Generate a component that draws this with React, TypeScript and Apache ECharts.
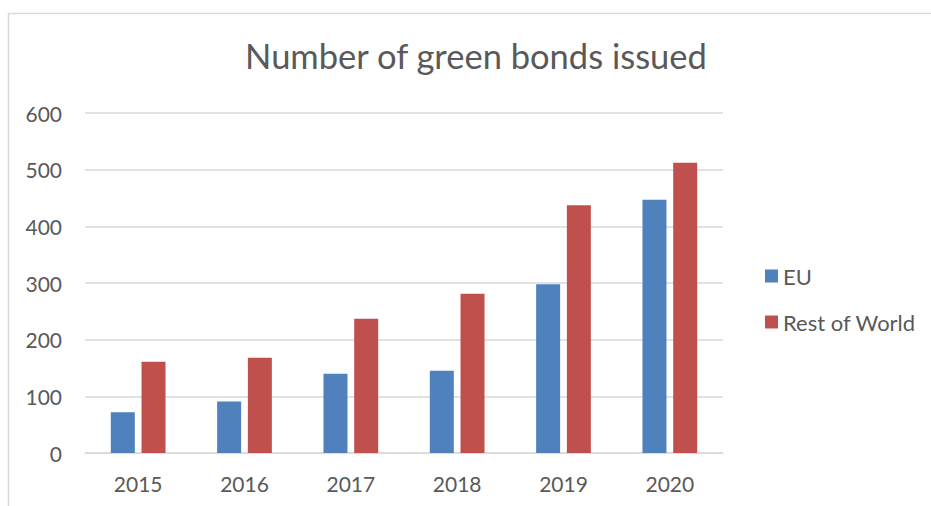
import React, { useEffect, useRef } from "react";
import * as echarts from "echarts";

const years = ["2015", "2016", "2017", "2018", "2019", "2020"];
const euValues = [72, 91, 140, 145, 298, 447];
const restOfWorldValues = [161, 168, 237, 281, 437, 512];
const titleText = "Number of green bonds issued";
const seriesNames = ["EU", "Rest of World"];

const FONT = "Lato, 'Open Sans', sans-serif";
const TEXT_COLOR = "#595959";
const GRID_COLOR = "#d9d9d9";

export default function App() {
  const ref = useRef<HTMLDivElement>(null);
  useEffect(() => {
    if (!ref.current) return;
    const chart = echarts.init(ref.current, undefined, { renderer: "svg" });
    chart.setOption({
      animation: false,
      backgroundColor: "#ffffff",
      title: {
        text: titleText,
        left: 476,
        top: 38,
        padding: 0,
        textAlign: "center",
        textStyle: {
          fontFamily: FONT,
          fontSize: 34.5,
          fontWeight: "normal",
          color: TEXT_COLOR,
        },
      },
      graphic: [
        {
          type: "rect",
          shape: { x: 8.5, y: 13.5, width: 960, height: 520 },
          style: { fill: "none", stroke: GRID_COLOR, lineWidth: 1.5 },
          silent: true,
          z: -1,
        },
      ],
      legend: {
        orient: "vertical",
        left: 765,
        top: 265,
        padding: 0,
        icon: "rect",
        itemWidth: 13,
        itemHeight: 13,
        itemGap: 24,
        textStyle: {
          fontFamily: FONT,
          fontSize: 22,
          lineHeight: 22,
          color: TEXT_COLOR,
        },
        data: seriesNames,
      },
      grid: { left: 85, right: 208, top: 113, bottom: 53, containLabel: false },
      xAxis: {
        type: "category",
        data: years,
        axisLine: { lineStyle: { color: GRID_COLOR, width: 1.5 } },
        axisTick: { show: false },
        axisLabel: {
          fontFamily: FONT,
          fontSize: 21,
          color: TEXT_COLOR,
          margin: 20,
        },
      },
      yAxis: {
        type: "value",
        min: 0,
        max: 600,
        interval: 100,
        axisLine: { show: false },
        axisTick: { show: false },
        splitLine: { lineStyle: { color: GRID_COLOR, width: 1.5 } },
        axisLabel: {
          fontFamily: FONT,
          fontSize: 21,
          color: TEXT_COLOR,
          margin: 23,
        },
      },
      series: [
        {
          name: seriesNames[0],
          type: "bar",
          data: euValues,
          barWidth: 24,
          barGap: "28%",
          itemStyle: { color: "#4F81BD" },
        },
        {
          name: seriesNames[1],
          type: "bar",
          data: restOfWorldValues,
          barWidth: 24,
          barGap: "28%",
          itemStyle: { color: "#C0504D" },
        },
      ],
    });
    return () => chart.dispose();
  }, []);
  return (
    <div
      ref={ref}
      style={{ position: "absolute", left: 0, top: 0, width: 931, height: 506 }}
    />
  );
}
